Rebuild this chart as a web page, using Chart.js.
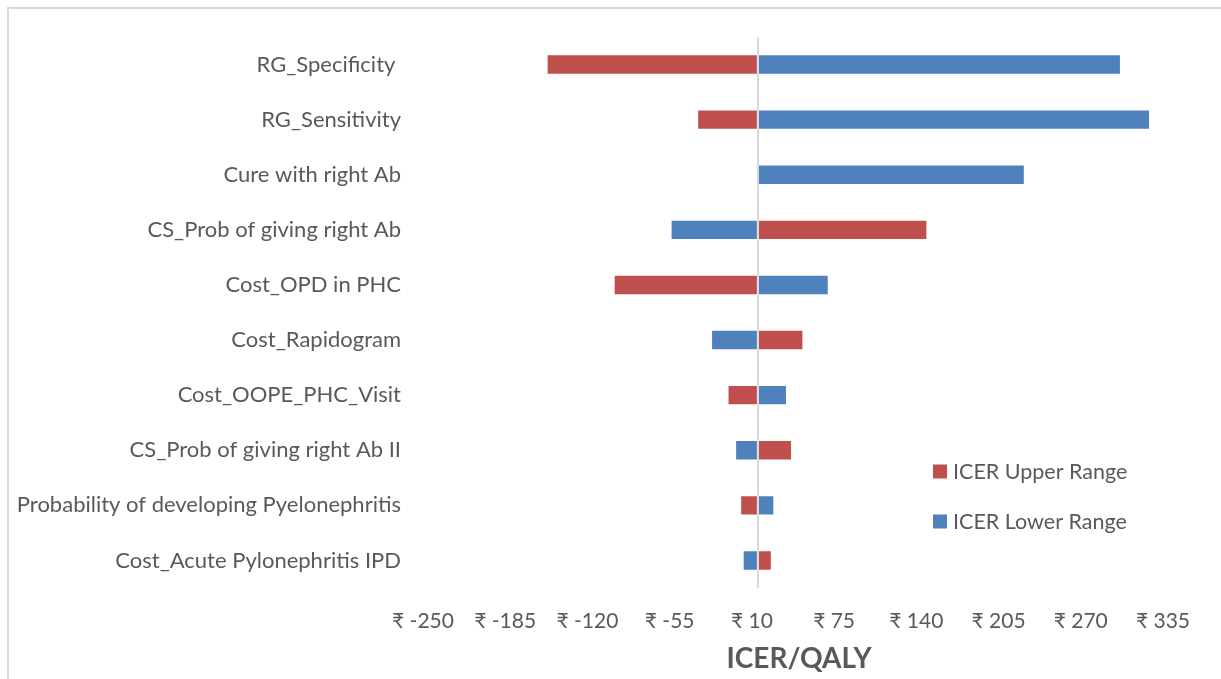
<!DOCTYPE html>
<html>
<head>
<meta charset="utf-8">
<script src="https://cdn.jsdelivr.net/npm/chart.js@4/dist/chart.umd.min.js"></script>
<style>
  html, body { margin: 0; padding: 0; background: #ffffff; }
  #wrap { width: 1221px; height: 679px; position: relative; }
</style>
</head>
<body>
<div id="wrap"><canvas id="c" width="1221" height="679"></canvas></div>
<script>
// Tornado diagram: one-way sensitivity of ICER/QALY around the base value
const parameters = [
  'RG_Specificity ',
  'RG_Sensitivity',
  'Cure with right Ab',
  'CS_Prob of giving right Ab',
  'Cost_OPD in PHC',
  'Cost_Rapidogram',
  'Cost_OOPE_PHC_Visit',
  'CS_Prob of giving right Ab II',
  'Probability of developing Pyelonephritis',
  'Cost_Acute Pylonephritis IPD'
];
const baseIcer = 10;
const icerUpper = [-157, -38, 10, 144, -104, 46, -14, 37, -4, 21];
const icerLower = [297, 320, 221, -59, 66, -27, 33, -8, 23, -2];
const axisTicks = [-250, -185, -120, -55, 10, 75, 140, 205, 270, 335];

const RED = '#C0504D';
const BLUE = '#4F81BD';
const TEXT = '#595959';
const FONT = "Lato, 'Noto Sans', 'DejaVu Sans', sans-serif";

const toRange = arr => arr.map(v => [baseIcer, v]);

// Outer chart frame (top and left edges)
const framePlugin = {
  id: 'frame',
  beforeDraw(chart) {
    const ctx = chart.ctx;
    ctx.save();
    ctx.strokeStyle = '#D9D9D9';
    ctx.lineWidth = 2;
    ctx.beginPath();
    ctx.moveTo(8, chart.height);
    ctx.lineTo(8, 8);
    ctx.lineTo(chart.width, 8);
    ctx.stroke();
    ctx.restore();
  }
};

// Legend drawn inside the plot, lower right
const legendPlugin = {
  id: 'innerLegend',
  afterDraw(chart) {
    const ctx = chart.ctx;
    const items = [chart.data.datasets[0], chart.data.datasets[1]];
    const x = 933, ys = [471.5, 521.5];
    ctx.save();
    ctx.font = '21.5px ' + FONT;
    ctx.textBaseline = 'middle';
    items.forEach((ds, i) => {
      ctx.fillStyle = ds.backgroundColor;
      ctx.fillRect(x, ys[i] - 7, 14, 14);
      ctx.fillStyle = TEXT;
      ctx.fillText(ds.label, x + 20, ys[i] + 1);
    });
    ctx.restore();
  }
};

new Chart(document.getElementById('c'), {
  type: 'bar',
  data: {
    labels: parameters,
    datasets: [
      {
        label: 'ICER Upper Range',
        data: toRange(icerUpper),
        backgroundColor: RED,
        borderColor: 'rgba(255,255,255,0.35)',
        borderWidth: 1,
        borderSkipped: false,
        grouped: false,
        barPercentage: 0.37,
        categoryPercentage: 1
      },
      {
        label: 'ICER Lower Range',
        data: toRange(icerLower),
        backgroundColor: BLUE,
        borderColor: 'rgba(255,255,255,0.35)',
        borderWidth: 1,
        borderSkipped: false,
        grouped: false,
        barPercentage: 0.37,
        categoryPercentage: 1
      }
    ]
  },
  options: {
    indexAxis: 'y',
    responsive: false,
    animation: false,
    layout: { padding: { top: 37, right: 52, left: 0, bottom: 0 } },
    plugins: {
      legend: { display: false },
      tooltip: { enabled: false }
    },
    scales: {
      x: {
        type: 'linear',
        min: axisTicks[0],
        max: axisTicks[axisTicks.length - 1],
        afterBuildTicks(scale) {
          scale.ticks = axisTicks.map(v => ({ value: v }));
        },
        afterFit(scale) { scale.height = 91; },
        border: { display: false },
        grid: {
          drawTicks: false,
          lineWidth: 2,
          color: c => (c.tick && c.tick.value === baseIcer) ? '#D9D9D9' : 'rgba(0,0,0,0)'
        },
        ticks: {
          padding: 21,
          labelOffset: -6,
          color: TEXT,
          font: { family: FONT, size: 21 },
          callback: v => '\u20B9 ' + v
        },
        title: {
          display: true,
          text: 'ICER/QALY',
          color: TEXT,
          font: { family: FONT, size: 28, weight: 'bold' },
          padding: { top: 0, bottom: 3 }
        }
      },
      y: {
        afterFit(scale) {
          scale.width = 429;
          // categories are offset, so no extra room is needed above/below
          scale.paddingTop = 0;
          scale.paddingBottom = 0;
        },
        border: { display: false },
        grid: { display: false, drawTicks: false },
        ticks: {
          padding: 28,
          color: TEXT,
          font: { family: FONT, size: 22 }
        }
      }
    }
  },
  plugins: [framePlugin, legendPlugin]
});
</script>
</body>
</html>
